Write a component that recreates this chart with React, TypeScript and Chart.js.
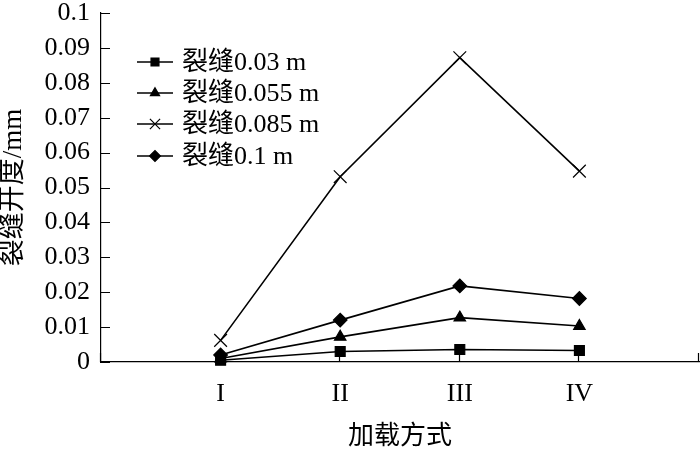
import React, { useEffect, useRef } from "react";
import { Chart, registerables, LineController } from "chart.js";
import { drawPoint } from "chart.js/helpers";

Chart.register(...registerables);
// keep the plot area edges where the axes are, instead of padding for marker overflow
(LineController.prototype as any).getMaxOverflow = function () {
  return 0;
};

const categories = ["I", "II", "III", "IV"];
const crack003 = [0.0005, 0.003, 0.0036, 0.0033];
const crack0055 = [0.001, 0.0072, 0.0127, 0.0103];
const crack0085 = [0.0062, 0.0531, 0.0872, 0.0547];
const crack01 = [0.002, 0.012, 0.0218, 0.0182];
const seriesNames = ["裂缝0.03 m", "裂缝0.055 m", "裂缝0.085 m", "裂缝0.1 m"];
const yTicks = [0, 0.01, 0.02, 0.03, 0.04, 0.05, 0.06, 0.07, 0.08, 0.09, 0.1];

const FONT = "'Liberation Serif', 'Times New Roman', 'Noto Sans CJK SC', serif";

const styles = [
  { pointStyle: "rect", radius: 7 },
  { pointStyle: "triangle", radius: 6.6 },
  { pointStyle: "crossRot", radius: 9 },
  { pointStyle: "rectRot", radius: 6.8 },
];

const inwardTicks = {
  id: "inwardTicks",
  afterDraw(chart: any) {
    const ctx = chart.ctx;
    const xs = chart.scales.x;
    const ys = chart.scales.y;
    const area = chart.chartArea;
    ctx.save();
    ctx.strokeStyle = "#000";
    ctx.lineWidth = 1.2;
    ctx.beginPath();
    for (let v = 0; v <= 5; v++) {
      const px = Math.round(xs.getPixelForValue(v)) - 0.5;
      ctx.moveTo(px, area.bottom);
      ctx.lineTo(px, area.bottom - 9);
    }
    yTicks.forEach((v) => {
      const py = Math.round(ys.getPixelForValue(v)) + 0.5;
      ctx.moveTo(area.left, py);
      ctx.lineTo(area.left + 9, py);
    });
    ctx.stroke();
    ctx.restore();
  },
};

const customLegend = {
  id: "customLegend",
  afterDraw(chart: any) {
    const ctx = chart.ctx;
    const area = chart.chartArea;
    const x0 = area.left + 36;
    const x1 = area.left + 72;
    const tx = area.left + 81;
    const rowY = [62, 93, 124, 156];
    ctx.save();
    ctx.fillStyle = "#000";
    ctx.strokeStyle = "#000";
    seriesNames.forEach((name, i) => {
      const y = rowY[i];
      ctx.lineWidth = 1.5;
      ctx.beginPath();
      ctx.moveTo(x0, y);
      ctx.lineTo(x1, y);
      ctx.stroke();
      ctx.lineWidth = 1.2;
      drawPoint(
        ctx,
        { pointStyle: styles[i].pointStyle as any, radius: styles[i].radius * 0.8, rotation: 0, borderWidth: 1.2 } as any,
        (x0 + x1) / 2,
        y
      );
      ctx.font = `26px ${FONT}`;
      ctx.textBaseline = "middle";
      ctx.fillStyle = "#000";
      ctx.fillText(name, tx, y + 1);
    });
    ctx.restore();
  },
};

export default function App() {
  const ref = useRef<HTMLCanvasElement>(null);
  useEffect(() => {
    document.body.style.margin = "0";
    const all = [crack003, crack0055, crack0085, crack01];
    const chart = new Chart(ref.current!, {
      type: "line",
      data: {
        datasets: all.map((arr, i) => ({
          label: seriesNames[i],
          data: arr.map((v, j) => ({ x: j + 1, y: v })),
          borderColor: "#000",
          backgroundColor: "#000",
          borderWidth: 1.6,
          pointStyle: styles[i].pointStyle as any,
          pointRadius: styles[i].radius,
          pointBorderWidth: 1.2,
          pointBorderColor: "#000",
          pointBackgroundColor: "#000",
          tension: 0,
          fill: false,
          clip: false as any,
        })),
      },
      options: {
        animation: false,
        responsive: false,
        layout: { padding: { top: 0, right: 1, left: 0, bottom: 0 } },
        plugins: { legend: { display: false }, tooltip: { enabled: false } },
        scales: {
          x: {
            type: "linear",
            min: 0,
            max: 5,
            afterBuildTicks: (s: any) => {
              s.ticks = categories.map((_, i) => ({ value: i + 1 }));
            },
            afterFit: (s: any) => {
              s.height = 89;
              s.paddingLeft = 0;
              s.paddingRight = 0;
            },
            grid: { display: false, drawTicks: false },
            border: { display: true, color: "#000", width: 1.2 },
            ticks: {
              color: "#000",
              font: { family: FONT, size: 26 },
              padding: 17,
              maxRotation: 0,
              callback: (v: any) => categories[Number(v) - 1] ?? "",
            },
            title: {
              display: true,
              text: "加载方式",
              color: "#000",
              font: { family: FONT, size: 26, lineHeight: 1.05 },
              padding: { top: 0, bottom: 0 },
            },
          },
          y: {
            min: 0,
            max: 0.1,
            afterBuildTicks: (s: any) => {
              s.ticks = yTicks.map((v) => ({ value: v }));
            },
            afterFit: (s: any) => {
              s.width = 101;
              s.paddingTop = 13;
              s.paddingBottom = 0;
            },
            grid: { display: false, drawTicks: false },
            border: { display: true, color: "#000", width: 1.2 },
            ticks: {
              color: "#000",
              font: { family: FONT, size: 26 },
              padding: 11,
              callback: (v: any) => String(Math.round(Number(v) * 100) / 100),
            },
            title: {
              display: true,
              text: "裂缝开度/mm",
              color: "#000",
              font: { family: FONT, size: 27, lineHeight: 1.0 },
              padding: { top: 0, bottom: 0 },
            },
          },
        },
      },
      plugins: [inwardTicks, customLegend],
    });
    return () => chart.destroy();
  }, []);
  return (
    <div style={{ width: 700, height: 451 }}>
      <canvas ref={ref} width={700} height={451} style={{ display: "block" }} />
    </div>
  );
}
